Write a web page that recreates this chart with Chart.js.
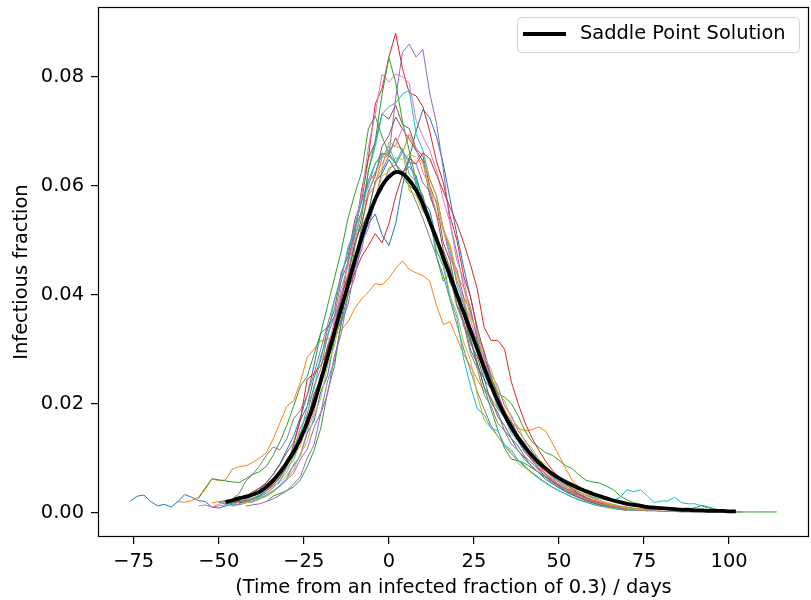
<!DOCTYPE html>
<html>
<head>
<meta charset="utf-8">
<script src="https://cdn.jsdelivr.net/npm/chart.js@4.4.1/dist/chart.umd.min.js"></script>
<style>
  html, body { margin: 0; padding: 0; background: #fff; }
  #wrap { width: 811px; height: 600px; position: relative; }
</style>
</head>
<body>
<div id="wrap"><canvas id="chart" width="811" height="600"></canvas></div>
<script>
// all y values below are in units of 1e-4 (infectious fraction), one value every 2 days
const STEP = 2;

const saddleStart = -48;
const saddleValues = [19,22,26,29,33,38,47,59,74,91,111,135,165,200,242,286,331,375,418,462,505,543,575,600,616,625,622,610,592,566,534,502,468,434,400,367,334,300,266,234,205,179,157,137,120,105,92,81,71,63,56,50,44,39,34,30,26,22,19,16,14,12,10,9,8,7,6,5,5,4,4,3,3,3,2,2];

// first day of each stochastic run
const runStarts = [-76, -62, -56, -50, -44, -48, -56, -50, -46, -48, -46, -52, -36, -48, -42, -44, -54, -48, -44, -50];

const run00 = [21,30,32,20,12,15,10,20,33,28,22,20,10,8,12,15,20,25,30,42,55,70,90,115,140,175,215,270,330,340,360,395,435,470,500,530,548,510,490,530,600,650,700,740,725,690,640,575,510,450,395,340,290,248,210,180,155,132,112,96,82,70,60,52,44,37,31,26,22,18,15,12,10,8,7,6,5,4];
const run01 = [20,19,22,28,42,62,58,60,80,84,86,92,100,110,135,165,195,205,240,285,300,315,318,325,335,350,375,392,405,420,418,430,448,462,446,440,435,425,380,345,350,320,290,268,245,222,210,190,175,165,155,150,152,157,150,128,105,80,58,45,35,28,22,18,15,12,10,8,7,6,5,4];
const run02 = [25,45,62,60,58,56,55,62,70,75,85,105,130,160,195,232,250,290,330,380,430,480,540,585,625,705,728,690,660,640,615,600,590,572,545,470,425,440,410,365,320,275,230,190,152,118,98,95,90,82,74,66,58,50,44,38,32,26,21,17,13,10,8,6,5,4];
const run03 = [18,20,22,25,30,38,45,52,62,75,88,120,134,178,198,254,282,348,388,462,512,592,652,750,778,836,880,815,770,765,745,700,645,606,544,500,434,396,334,296,245,220,180,165,134,122,97,88,70,62,49,43,35,28,22,18,14,11,9,7,6,5];
const run04 = [15,18,20,25,32,40,48,60,72,98,116,156,184,242,278,348,382,448,482,548,574,628,655,760,845,860,836,850,770,715,630,530,476,414,376,314,284,240,218,186,168,142,127,106,93,77,66,56,47,40,33,27,22,18,15,12,10,8,6,5];
const run05 = [20,25,30,28,35,45,55,70,88,110,128,170,195,248,280,338,372,440,470,538,572,650,680,732,722,748,712,705,668,655,600,568,495,462,398,365,310,286,244,228,196,175,150,132,110,98,80,72,58,48,40,33,27,22,18,14,11,9,7,6,5,4];
const run06 = [12,14,10,15,18,16,20,24,30,36,44,56,66,92,104,145,164,216,245,308,344,412,452,528,582,672,732,805,790,805,800,788,720,690,665,628,574,532,462,428,364,328,274,248,205,186,154,138,112,100,82,71,58,48,40,33,27,22,18,14,11,9,7,5,4];
const run07 = [20,22,25,35,58,70,86,105,120,115,135,172,188,215,255,300,345,390,435,480,525,570,610,640,660,655,640,625,600,570,540,505,470,435,390,345,300,260,222,190,160,140,122,108,95,84,74,64,55,47,40,34,28,23,19,15,12,10,8,6,5,4];
const run08 = [15,18,20,24,28,35,45,60,74,104,122,166,192,248,278,338,370,432,462,522,552,608,632,680,672,668,590,582,552,538,482,458,398,366,312,280,215,170,155,140,125,110,90,82,72,62,54,46,40,34,28,23,19,15,12,9,7,5,4];
const run09 = [18,15,14,18,22,28,36,46,58,82,96,134,154,205,234,295,330,398,438,508,552,628,672,732,745,752,768,775,695,665,612,582,518,482,418,384,328,300,252,230,192,174,145,130,110,100,85,77,66,58,50,44,38,32,28,25,23,22,28,42,38,42,30,18,21,21,28,18,16,16,12,8,6,4,3];
const run10 = [12,15,18,20,25,30,38,50,62,88,104,146,168,222,252,318,354,422,458,522,552,608,622,648,628,626,635,618,572,555,502,478,422,398,342,318,268,246,202,184,150,136,113,100,84,74,61,53,45,38,32,27,22,18,15,12,10,8,6,5,4,3];
const run11 = [18,20,16,20,25,28,34,40,48,58,72,90,108,145,166,216,246,305,338,402,435,498,528,582,602,652,655,688,660,695,665,646,612,582,522,488,425,394,340,314,266,245,207,190,158,143,118,105,86,76,64,55,47,40,34,28,23,19,15,12,10,8,6,5,4];
const run12 = [20,30,35,40,47,60,84,114,155,222,268,348,402,488,542,628,682,768,835,790,718,664,610,580,534,510,464,446,404,384,340,315,270,250,218,212,200,178,150,130,120,110,105,96,86,80,68,59,56,54,48,42,30,23,18,15,12,10,8,7,6,5,6,9,13,10,6,4,2,1,1,1,1,1,1,1];
const run13 = [15,18,20,22,26,32,40,50,65,85,125,170,245,255,270,300,335,370,410,440,470,490,512,495,530,580,620,650,640,660,650,620,590,560,530,495,455,410,340,316,316,300,240,200,165,138,115,95,78,64,52,42,34,27,21,17,13,10,8,6,4];
const run14 = [12,14,16,20,25,32,40,52,66,100,124,182,218,288,328,398,432,496,522,575,592,632,638,662,642,640,605,590,545,522,470,446,395,370,322,296,254,232,196,178,150,133,113,98,84,72,61,52,44,37,31,26,21,17,14,11,9,7,5,4];
const run15 = [18,20,25,30,40,52,64,92,106,146,166,218,245,305,338,400,432,495,528,590,618,672,692,726,704,686,664,646,582,548,482,448,382,352,298,274,230,210,176,160,136,122,102,91,78,67,57,48,40,33,27,22,18,14,11,8,6,4];
const run16 = [14,10,12,14,12,16,18,20,24,40,48,55,68,85,105,150,184,246,288,356,398,462,498,556,584,626,640,666,674,706,684,670,624,600,548,520,468,438,384,355,306,280,238,215,182,162,136,120,99,86,72,61,51,43,36,30,25,20,16,13,10,8,6,5,4];
const run17 = [22,20,24,28,32,38,48,60,72,98,116,155,180,232,264,325,360,426,460,522,552,608,622,658,658,688,662,648,602,582,532,512,458,432,378,346,292,264,216,196,164,150,125,114,96,86,73,64,55,47,40,34,28,23,19,15,12,10,8,6,5,4,3,3,2,2,2,1,1,1,1,1,1,1,1,1,1];
const run18 = [15,18,20,25,30,38,48,62,78,108,130,178,210,270,305,370,405,468,498,552,574,618,625,652,648,658,652,642,592,572,518,492,438,412,358,334,286,264,222,205,172,158,130,119,98,88,72,64,53,45,38,32,26,21,17,14,11,8,6,5,4];
const run19 = [20,15,18,22,20,26,32,42,55,70,86,120,142,195,226,288,322,390,425,488,518,575,598,642,652,672,642,668,620,608,556,535,480,452,392,358,282,232,190,180,155,150,124,115,96,86,73,64,55,47,40,34,28,23,19,15,12,10,8,6,5,4];

const runs = [run00, run01, run02, run03, run04, run05, run06, run07, run08, run09,
              run10, run11, run12, run13, run14, run15, run16, run17, run18, run19];

const runColors = ['#1f77b4', '#ff7f0e', '#2ca02c', '#d62728', '#9467bd',
                   '#8c564b', '#e377c2', '#7f7f7f', '#bcbd22', '#17becf'];

const xTicks = [-75, -50, -25, 0, 25, 50, 75, 100];
const yTicks = [0, 0.02, 0.04, 0.06, 0.08];

const FONT = 'DejaVu Sans';
const FSIZE = 19.4;

function toPoints(start, values) {
  return values.map((v, i) => ({ x: start + i * STEP, y: v / 10000 }));
}

const datasets = runs.map((vals, i) => ({
  label: 'run ' + i,
  data: toPoints(runStarts[i], vals),
  borderColor: runColors[i % 10],
  borderWidth: 1,
  pointRadius: 0,
  tension: 0,
  order: 100 - i,
}));

datasets.push({
  label: 'Saddle Point Solution',
  data: toPoints(saddleStart, saddleValues),
  borderColor: '#000',
  borderWidth: 3.8,
  pointRadius: 0,
  tension: 0.3,
  order: 0,
});

const fmtMinus = s => s.replace('-', '\u2212');

// box round the plot area + legend in the upper right corner
const framePlugin = {
  id: 'frame',
  afterDraw(chart) {
    const { ctx, chartArea: a } = chart;
    ctx.save();
    ctx.strokeStyle = '#000';
    ctx.lineWidth = 1.2;
    ctx.strokeRect(a.left + 0.5, a.top + 0.5, a.right - a.left - 1, a.bottom - a.top - 1);

    const bx = 517, by = 17, bw = 282, bh = 35, r = 4;
    ctx.beginPath();
    ctx.roundRect(bx + 0.5, by + 0.5, bw, bh, r);
    ctx.fillStyle = 'rgba(255,255,255,0.8)';
    ctx.fill();
    ctx.strokeStyle = '#d4d4d4';
    ctx.lineWidth = 1;
    ctx.stroke();

    ctx.beginPath();
    ctx.moveTo(523, 34);
    ctx.lineTo(566, 34);
    ctx.strokeStyle = '#000';
    ctx.lineWidth = 3.8;
    ctx.stroke();

    ctx.fillStyle = '#000';
    ctx.font = FSIZE + 'px "' + FONT + '"';
    ctx.textBaseline = 'middle';
    ctx.textAlign = 'left';
    ctx.fillText('Saddle Point Solution', 580, 34);
    ctx.restore();
  }
};

new Chart(document.getElementById('chart'), {
  type: 'line',
  data: { datasets },
  options: {
    responsive: false,
    animation: false,
    events: [],
    layout: { padding: { top: 7, right: 2, left: 0, bottom: 0 } },
    plugins: { legend: { display: false }, tooltip: { enabled: false } },
    scales: {
      x: {
        type: 'linear',
        min: -85.5,
        max: 123.5,
        afterBuildTicks: s => { s.ticks = xTicks.map(v => ({ value: v })); },
        afterFit: s => { s.height = 63; s.paddingLeft = 0; s.paddingRight = 0; },
        grid: { display: true, drawOnChartArea: false, drawTicks: true, tickLength: 7, color: '#000', lineWidth: 1.2 },
        border: { display: false },
        ticks: {
          color: '#000',
          padding: 6,
          maxRotation: 0,
          font: { family: FONT, size: FSIZE },
          callback: v => fmtMinus(String(v)),
        },
        title: {
          display: true,
          text: '(Time from an infected fraction of 0.3) / days',
          color: '#000',
          font: { family: FONT, size: FSIZE },
          padding: { top: 0, bottom: 0 },
        },
      },
      y: {
        type: 'linear',
        min: -0.0045,
        max: 0.0928,
        afterBuildTicks: s => { s.ticks = yTicks.map(v => ({ value: v })); },
        afterFit: s => { s.width = 98; s.paddingTop = 0; s.paddingBottom = 0; },
        grid: { display: true, drawOnChartArea: false, drawTicks: true, tickLength: 7, color: '#000', lineWidth: 1.2 },
        border: { display: false },
        ticks: {
          color: '#000',
          padding: 7,
          font: { family: FONT, size: FSIZE },
          callback: v => v.toFixed(2),
        },
        title: {
          display: true,
          text: 'Infectious fraction',
          color: '#000',
          font: { family: FONT, size: FSIZE },
          padding: { top: 10, bottom: 0 },
        },
      },
    },
  },
  plugins: [framePlugin],
});
</script>
</body>
</html>
